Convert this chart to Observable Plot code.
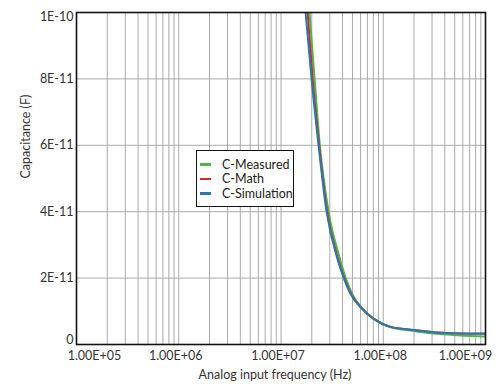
<!DOCTYPE html>
<html><head><meta charset="utf-8">
<script src="https://cdn.jsdelivr.net/npm/d3@7"></script>
<script src="https://cdn.jsdelivr.net/npm/@observablehq/plot@0.6"></script>
<style>
body{margin:0;background:#fff;font-family:Lato,"DejaVu Sans",sans-serif}
#wrap{position:relative;width:500px;height:387px}
#legend{position:absolute;left:196px;top:150px;width:96px;height:55px;border:1.5px solid #111;background:#fff;box-sizing:content-box;font-size:12.5px;color:#222;white-space:nowrap;overflow:hidden}
#legend .row{display:flex;align-items:center;height:14.5px;margin-left:3px;white-space:nowrap}
#legend .row:first-child{margin-top:6px}
#legend .sw{flex:none;width:11px;height:2.5px;margin-right:11px}
</style>
</head><body><div id="wrap"><div id="legend"></div></div>
<script>
const seriesNames = ["C-Measured", "C-Math", "C-Simulation"];
const seriesColors = ["#4db84a", "#d22b2b", "#2a78ad"];

const measuredFreq = [1.9e7, 2.13e7, 2.4e7, 2.92e7, 3.76e7, 4.3e7, 4.95e7, 6.1e7, 8.1e7, 1.18e8, 1.98e8, 3.4e8, 5.7e8, 1e9];
const measuredCap  = [1e-10, 8e-11, 6e-11, 4e-11, 2.6e-11, 2e-11, 1.53e-11, 1.12e-11, 7.7e-12, 5.2e-12, 4.1e-12, 3.2e-12, 2.7e-12, 2.4e-12];

const mathFreq = [1.82e7, 2.04e7, 2.36e7, 2.83e7, 3.6e7, 4.16e7, 4.83e7, 6.05e7, 8.1e7, 1.18e8, 1.98e8, 3.4e8, 5.7e8, 1e9];
const mathCap  = [1e-10, 8e-11, 6e-11, 4e-11, 2.6e-11, 2e-11, 1.53e-11, 1.12e-11, 7.7e-12, 5.3e-12, 4.4e-12, 3.6e-12, 3.3e-12, 3.2e-12];

const simFreq = [1.74e7, 1.99e7, 2.33e7, 2.79e7, 3.55e7, 4.11e7, 4.78e7, 6.0e7, 8.09e7, 1.18e8, 1.98e8, 3.4e8, 5.7e8, 1e9];
const simCap  = [1e-10, 8e-11, 6e-11, 4e-11, 2.6e-11, 2e-11, 1.53e-11, 1.12e-11, 7.7e-12, 5.3e-12, 4.4e-12, 3.6e-12, 3.3e-12, 3.3e-12];

const xTicks = [1e5, 1e6, 1e7, 1e8, 1e9];
const xTickLabels = ["1.00E+05", "1.00E+06", "1.00E+07", "1.00E+08", "1.00E+09"];
const yTicks = [0, 2e-11, 4e-11, 6e-11, 8e-11, 1e-10];
const yTickLabels = ["0", "2E-11", "4E-11", "6E-11", "8E-11", "1E-10"];

const rows = [];
[[measuredFreq, measuredCap], [mathFreq, mathCap], [simFreq, simCap]].forEach(([f, c], i) => {
  f.forEach((v, j) => rows.push({series: seriesNames[i], f: v, c: c[j]}));
});

const minorTicks = [];
for (const d of xTicks.slice(0, -1)) for (let k = 1; k <= 9; k++) minorTicks.push(d * k);
minorTicks.push(xTicks[xTicks.length - 1]);

const xFmt = d => xTickLabels[xTicks.indexOf(d)];
const yFmt = d => yTickLabels[yTicks.findIndex(t => Math.abs(t - d) < 1e-15)];
const axisStyle = {tickSize: 0, fontSize: 12.5, color: "#333", tickFormat: xFmt, label: null, tickPadding: 7};
const yAxisStyle = {tickSize: 0, tickPadding: 3, fontSize: 12.5, tickFormat: yFmt, label: null};

const chart = Plot.plot({
  width: 500, height: 387,
  marginLeft: 76, marginRight: 15, marginTop: 12, marginBottom: 43,
  style: {fontFamily: "Lato, 'DejaVu Sans', sans-serif", background: "#fff", color: "#333"},
  x: {type: "log", domain: [1e5, 1e9]},
  y: {domain: [0, 1e-10]},
  color: {domain: seriesNames, range: seriesColors},
  marks: [
    Plot.gridX(minorTicks, {stroke: "#aaa", strokeOpacity: 1, strokeWidth: 1}),
    Plot.gridY(yTicks, {stroke: "#aaa", strokeOpacity: 1, strokeWidth: 1}),
    Plot.axisX([xTicks[0]], {...axisStyle, dx: 18}),
    Plot.axisX(xTicks.slice(1, -1), {...axisStyle, dx: -3}),
    Plot.axisX([xTicks[4]], {...axisStyle, dx: -20}),
    Plot.axisY([yTicks[0]], {...yAxisStyle, dy: -5}),
    Plot.axisY(yTicks.slice(1, -1), yAxisStyle),
    Plot.axisY([yTicks[5]], {...yAxisStyle, dy: 4}),
    Plot.line(rows, {x: "f", y: "c", z: "series", stroke: "series", strokeWidth: 2, curve: "monotone-x", clip: true}),
    Plot.frame({stroke: "#111", strokeWidth: 1.6}),
    Plot.text(["Capacitance (F)"], {frameAnchor: "left", dx: -51, rotate: -90, fontSize: 12.5, fill: "#333"}),
    Plot.text(["Analog input frequency (Hz)"], {frameAnchor: "bottom", dy: 34, dx: -6, fontSize: 12.5, fill: "#333"})
  ]
});
document.getElementById("wrap").prepend(chart);

const legend = document.getElementById("legend");
seriesNames.forEach((n, i) => {
  const r = document.createElement("div");
  r.className = "row";
  r.innerHTML = `<span class="sw" style="background:${seriesColors[i]}"></span><span>${n}</span>`;
  legend.appendChild(r);
});
</script>
</body></html>
